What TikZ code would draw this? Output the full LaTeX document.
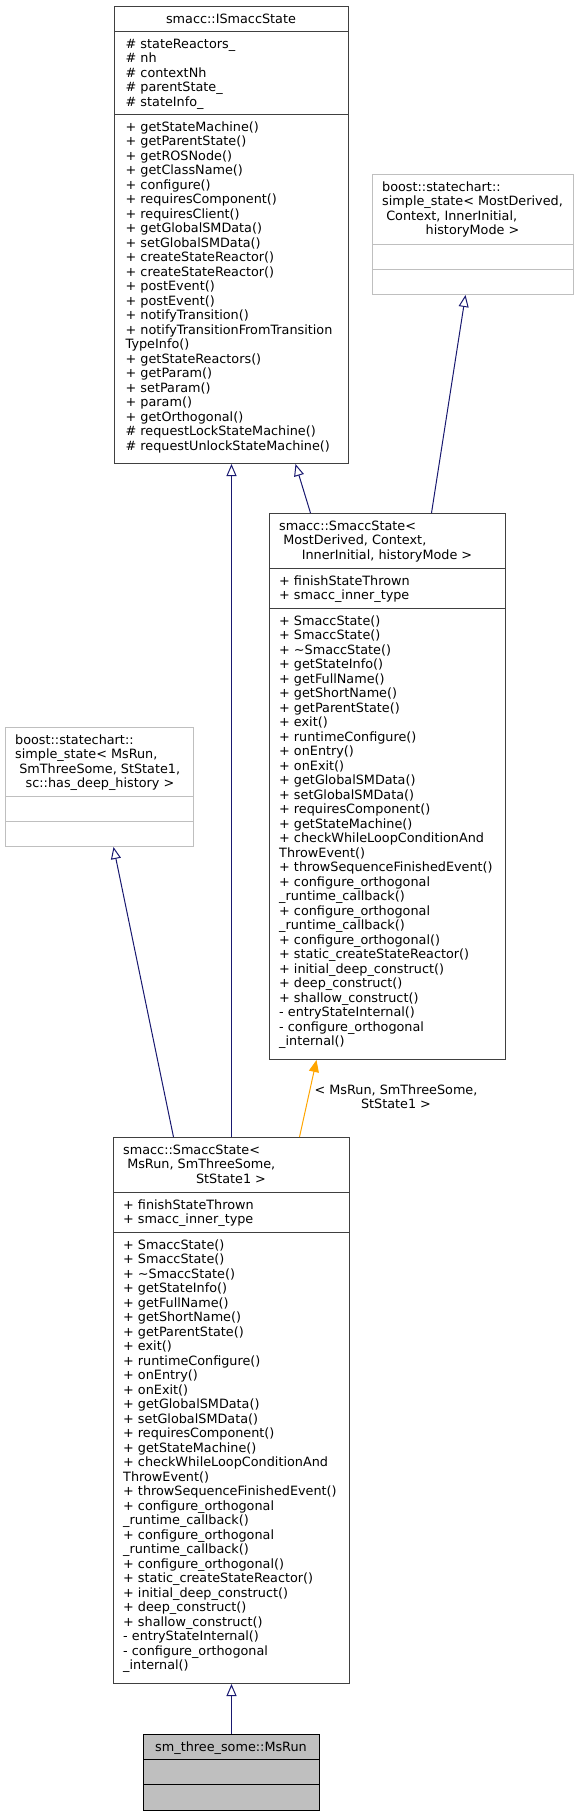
\documentclass[tikz,border=0pt]{standalone}
\usepackage{fontspec}
\setmainfont{DejaVu Sans}
\usetikzlibrary{arrows.meta}
\definecolor{edgenavy}{HTML}{191970}
\definecolor{tmplorange}{HTML}{FFA500}
\definecolor{boxgray}{HTML}{404040}
\definecolor{extgray}{HTML}{BFBFBF}
\definecolor{rootfill}{HTML}{BFBFBF}
\tikzset{
    classbox/.style={rectangle, draw=boxgray, fill=white, line width=1pt, inner sep=0pt, anchor=north west},
    extbox/.style={classbox, draw=extgray},
    rootbox/.style={classbox, draw=black, fill=rootfill},
    sepline/.style={draw=boxgray, line width=1pt},
    extsep/.style={draw=extgray, line width=1pt},
    rootsep/.style={draw=black, line width=1pt},
    members/.style={anchor=north west, inner sep=0pt, align=left, yshift=10.15pt},
    classtitle/.style={anchor=base, inner sep=0pt},
    edgelabel/.style={anchor=north, inner sep=0pt, align=center, yshift=10.15pt},
    inherit/.style={draw=edgenavy, line width=1pt, -{Triangle[open, length=12pt, width=10pt]}},
    instance/.style={draw=tmplorange, line width=1pt, -{Triangle[length=12pt, width=10pt, fill=tmplorange]}}
}
\newcommand{\smaccstateops}{\strut+ SmaccState()\\+ SmaccState()\\+ \textasciitilde SmaccState()\\+ getStateInfo()\\+ getFullName()\\+ getShortName()\\+ getParentState()\\+ exit()\\+ runtimeConfigure()\\+ onEntry()\\+ onExit()\\+ getGlobalSMData()\\+ setGlobalSMData()\\+ requiresComponent()\\+ getStateMachine()\\+ checkWhileLoopConditionAnd\\ThrowEvent()\\+ throwSequenceFinishedEvent()\\+ configure\_orthogonal\\\_runtime\_callback()\\+ configure\_orthogonal\\\_runtime\_callback()\\+ configure\_orthogonal()\\+ static\_createStateReactor()\\+ initial\_deep\_construct()\\+ deep\_construct()\\+ shallow\_construct()\\- entryStateInternal()\\- configure\_orthogonal\\\_internal()}
\begin{document}
\begin{tikzpicture}[x=1pt, y=-1pt, font=\fontsize{12.8}{14.5}\selectfont]
    \useasboundingbox (0,0) rectangle (584,1816);
    % smacc::ISmaccState
    \node[classbox, minimum width=234pt, minimum height=457pt] (isms) at (114,6) {};
    \draw[sepline] (isms.west |- 0,31) -- (isms.east |- 0,31);
    \draw[sepline] (isms.west |- 0,114) -- (isms.east |- 0,114);
    \node[classtitle] (ismstitle) at (231,23) {smacc::ISmaccState};
    \node[members] (ismsattr) at (125.5,48) {\strut\# stateReactors\_\\\# nh\\\# contextNh\\\# parentState\_\\\# stateInfo\_};
    \node[members] (ismsops) at (125.5,131) {\strut+ getStateMachine()\\+ getParentState()\\+ getROSNode()\\+ getClassName()\\+ configure()\\+ requiresComponent()\\+ requiresClient()\\+ getGlobalSMData()\\+ setGlobalSMData()\\+ createStateReactor()\\+ createStateReactor()\\+ postEvent()\\+ postEvent()\\+ notifyTransition()\\+ notifyTransitionFromTransition\\TypeInfo()\\+ getStateReactors()\\+ getParam()\\+ setParam()\\+ param()\\+ getOrthogonal()\\\# requestLockStateMachine()\\\# requestUnlockStateMachine()};
    % boost simple_state, generic
    \node[extbox, minimum width=201pt, minimum height=120pt] (ssbase) at (372,174) {};
    \draw[extsep] (ssbase.west |- 0,244) -- (ssbase.east |- 0,244);
    \draw[extsep] (ssbase.west |- 0,269) -- (ssbase.east |- 0,269);
    \node[members] (ssbasetitle) at (382,191) {\strut boost::statechart::\\simple\_state< MostDerived,\\\ Context, InnerInitial,};
    \node[classtitle] (ssbaselast) at (472.5,234.5) {historyMode >};
    % smacc::SmaccState, generic
    \node[classbox, minimum width=236pt, minimum height=546pt] (sst) at (269,513) {};
    \draw[sepline] (sst.west |- 0,568) -- (sst.east |- 0,568);
    \draw[sepline] (sst.west |- 0,608) -- (sst.east |- 0,608);
    \node[members] (ssttitle) at (279,530) {\strut smacc::SmaccState<\\\ MostDerived, Context,};
    \node[classtitle] (sstlast) at (387,559) {InnerInitial, historyMode >};
    \node[members] (sstattr) at (279,585) {\strut+ finishStateThrown\\+ smacc\_inner\_type};
    \node[members] (sstops) at (279,625) {\smaccstateops};
    % boost simple_state, MsRun
    \node[extbox, minimum width=188pt, minimum height=119pt] (ssmsrun) at (5,727) {};
    \draw[extsep] (ssmsrun.west |- 0,796) -- (ssmsrun.east |- 0,796);
    \draw[extsep] (ssmsrun.west |- 0,821) -- (ssmsrun.east |- 0,821);
    \node[members] (ssmsruntitle) at (15,744) {\strut boost::statechart::\\simple\_state< MsRun,\\\ SmThreeSome, StState1,};
    \node[classtitle] (ssmsrunlast) at (100,787.5) {sc::has\_deep\_history >};
    % smacc::SmaccState, MsRun
    \node[classbox, minimum width=236pt, minimum height=546pt] (smsrun) at (113,1137) {};
    \draw[sepline] (smsrun.west |- 0,1192) -- (smsrun.east |- 0,1192);
    \draw[sepline] (smsrun.west |- 0,1232) -- (smsrun.east |- 0,1232);
    \node[members] (smsruntitle) at (123,1154) {\strut smacc::SmaccState<\\\ MsRun, SmThreeSome,};
    \node[classtitle] (smsrunlast) at (231,1183) {StState1 >};
    \node[members] (smsrunattr) at (123,1209) {\strut+ finishStateThrown\\+ smacc\_inner\_type};
    \node[members] (smsrunops) at (123,1249) {\smaccstateops};
    % sm_three_some::MsRun
    \node[rootbox, minimum width=176pt, minimum height=76pt] (msrun) at (143,1734) {};
    \draw[rootsep] (msrun.west |- 0,1759) -- (msrun.east |- 0,1759);
    \draw[rootsep] (msrun.west |- 0,1784) -- (msrun.east |- 0,1784);
    \node[classtitle] (msruntitle) at (231,1751) {sm\_three\_some::MsRun};
    % inheritance
    \draw[inherit] (smsrun.north) -- (isms.south);
    \draw[inherit] ([xshift=-77pt]sst.north) -- ([xshift=64pt]isms.south);
    \draw[inherit] ([xshift=44pt]sst.north) -- ([xshift=-7.5pt]ssbase.south);
    \draw[inherit] ([xshift=-58pt]smsrun.north) -- ([xshift=14pt]ssmsrun.south);
    \draw[instance] ([xshift=68pt]smsrun.north) -- ([xshift=-71pt]sst.south);
    \node[edgelabel] (instlabel) at (396,1094) {\strut< MsRun, SmThreeSome,\\StState1 >};
    \draw[inherit] (msrun.north) -- (smsrun.south);
\end{tikzpicture}
\end{document}
